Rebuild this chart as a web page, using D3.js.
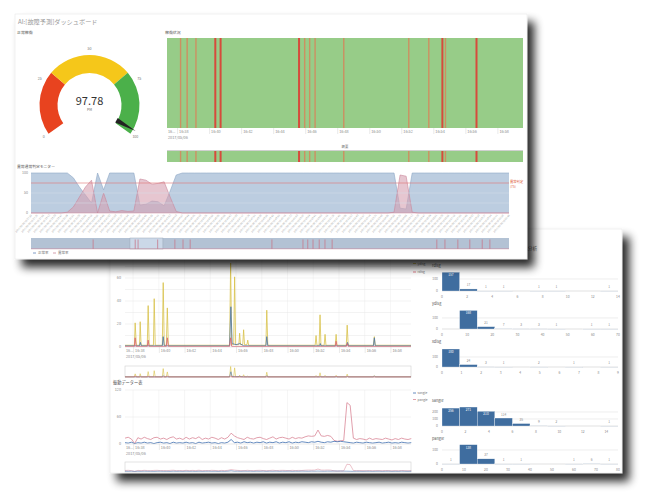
<!DOCTYPE html>
<html>
<head>
<meta charset="utf-8">
<script src="https://cdn.jsdelivr.net/npm/d3@7/dist/d3.min.js"></script>
<style>
html,body{margin:0;padding:0;background:#fff;}
svg{display:block;}
</style>
</head>
<body>
<svg id="chart" width="650" height="504"></svg>
<script>
// ================= DATA =================
const dashboardTitle = "AI:[故障予測]ダッシュボード";
const gaugeTitle = "正常稼働";
const gaugeValue = 97.78;
const gaugeUnit = "PM";
const gaugeBandEdges = [0, 30, 70, 100];
const gaugeTicks = [0, 25, 50, 75, 100];

const heatTitle = "稼働状況";
const overviewTitle = "概要";
const timeStart = 37.37, timeEnd = 59.6;          // minutes after 16:00
const timeTickMinutes = [38, 40, 42, 44, 46, 48, 50, 52, 54, 56, 58];
const timeTickLabels = ["16:38","16:40","16:42","16:44","16:46","16:48","16:50","16:52","16:54","16:56","16:58"];
const firstTickLabel = "16...";
const dateLabel = "2017/05/06";

const heatEventTimes  = [38.23, 38.64, 39.19, 40.38, 40.71, 45.61, 45.98, 46.29, 46.63, 48.42, 52.48, 53.73, 54.56, 54.77, 56.69];
const heatEventLevels = [1, 1, 1, 2, 2, 2, 1, 1, 1, 1, 1, 1, 2, 1, 2];

const monitorTitle = "異常通常判定モニター";
const monitorSeriesNames = ["正常率", "異常率"];
const monitorTimes = ["16:37:22","16:37:39","16:37:56","16:38:13","16:38:30","16:38:47","16:39:04","16:39:21","16:39:38","16:39:55",
"16:40:12","16:40:29","16:40:46","16:41:03","16:41:20","16:41:37","16:41:54","16:42:11","16:42:28","16:42:45",
"16:43:02","16:43:19","16:43:36","16:43:53","16:44:10","16:44:27","16:44:44","16:45:01","16:45:18","16:45:35",
"16:45:52","16:46:09","16:46:26","16:46:43","16:47:00","16:47:17","16:47:34","16:47:51","16:48:08","16:48:25",
"16:48:42","16:48:59","16:49:16","16:49:33","16:49:50","16:50:07","16:50:24","16:50:41","16:50:58","16:51:15",
"16:51:32","16:51:49","16:52:06","16:52:23","16:52:40","16:52:57","16:53:14","16:53:31","16:53:48","16:54:05",
"16:54:22","16:54:39","16:54:56","16:55:13","16:55:30","16:55:47","16:56:04","16:56:21","16:56:38","16:56:55",
"16:57:12","16:57:29","16:57:46","16:58:03","16:58:20","16:58:37","16:58:54","16:59:11","16:59:28","16:59:45"];
const normalRate = [100,100,100,100,100,100,100,88,65,45, 25,100,58,100,100,100,100,100,20,22,
 30,28,18,55,95,100,100,100,100,100, 100,100,100,100,100,100,100,100,100,100,
 100,100,100,100,100,100,100,100,100,100, 100,100,100,100,100,100,100,100,100,100,
 100,12,10,100,100,100,100,100,100,100, 100,100,100,100,100,100,100,100,100,100];
const abnormalRate = [0,0,0,0,0,0,2,15,40,65, 82,0,50,5,3,6,4,5,85,82,
 72,74,78,40,4,0,0,0,0,0, 0,0,0,0,0,0,0,0,0,0,
 0,0,0,0,0,0,0,0,0,0, 0,0,0,0,0,0,0,0,0,0,
 2,95,92,2,0,0,0,0,0,0, 0,0,0,0,0,0,0,0,0,0];
const monitorThreshold = 75;
const monitorThresholdLabel = ["異常判定", "(75)"];
const monitorYTicks = [0, 50, 100];
const monitorGrid = [25, 50];
const overviewEventPct = [13.0, 21.8, 22.4, 26.5, 30.1, 31.8, 33.3, 50.4, 56.9, 57.9, 59.0, 60.3, 61.5, 63.0, 84.9, 86.6, 89.3, 91.8, 94.4, 96.0];
const overviewBrushPct = [20.7, 27.6];

// sensor line chart (minute, value)
const sensorSeriesNames = ["xdisg", "ydisg", "rdisg"];
const xdisgSeries = [[37.37,1],[38.50,1],[38.57,4],[38.64,1],[40.27,1],[40.34,9],[40.42,1],[45.50,1],[45.60,35],[45.70,3],[46.0,2],[46.3,3],[46.6,1],
 [48.32,1],[48.39,9],[48.47,1],[52.5,1],[52.55,3],[52.6,1],[54.6,1],[54.66,4],[54.75,1],[56.68,1],[56.75,8],[56.82,1],[59.6,1]];
const ydisgSeries = [[37.37,1.5],[38.10,1.5],[38.16,21],[38.25,1.5],[38.50,1.5],[38.55,22],[38.62,1.5],[39.10,1.5],[39.17,36],[39.25,1.5],
 [39.58,1.5],[39.64,42],[39.72,1.5],[40.27,1.5],[40.34,56],[40.42,1.5],[40.58,1.5],[40.66,34],[40.74,1.5],[45.50,1.5],[45.58,73],[45.66,2],
 [45.82,2],[45.89,61],[45.97,2],[46.22,2],[46.28,12],[46.35,2],[46.52,2],[46.59,15],[46.66,2],[46.85,2],[46.91,6],[46.98,1.5],[48.32,1.5],
 [48.39,32],[48.47,1.5],[52.15,1.5],[52.22,10],[52.29,1.5],[52.46,1.5],[52.53,28],[52.60,1.5],[52.85,1.5],[52.92,11],[52.99,1.5],[53.71,1.5],
 [53.78,11],[53.85,1.5],[54.57,1.5],[54.64,19],[54.72,1.5],[56.68,1.5],[56.75,9],[56.82,1.5],[59.6,1.5]];
const rdisgSeries = [[37.37,0.5],[38.10,0.5],[38.16,8],[38.24,0.5],[39.10,0.5],[39.17,6],[39.24,0.5],[40.58,0.5],[40.66,8],[40.74,0.5],
 [45.50,0.5],[45.58,8],[45.66,0.5],[53.71,0.5],[53.78,5],[53.85,0.5],[54.57,0.5],[54.64,3],[54.71,0.5],[59.6,0.5]];
const sensorYTicks = [0, 20, 40, 60, 80, 100];

// vibration chart
const vibTitle = "振動データー表";
const vibSeriesNames = ["sangle", "pangle"];
const vibStartMinute = 37.37, vibStepMinute = 0.25;
const sangleValues = [3,2,4,1,3,2,4,2,3,1, 3,4,2,3,1,4,2,3,2,4, 2,3,1,4,2,3,4,2,3,1, 3,2,4,10,3,4,2,5,3,4,
 2,4,3,5,2,4,3,5,2,4, 3,5,2,4,3,5,4,3,5,4, 6,4,3,5,4,6,5,6,5,4, 3,2,4,3,2,4,3,2,3,4, 2,3,4,2,3,2,4,3,2,3];
const pangleValues = [13,15,11,1,14,11,15,12,10,14, 15,11,13,10,14,16,11,13,10,15, 11,14,12,16,10,13,11,15,13,10,
 14,11,15,24,18,14,12,10,15,12, 11,14,15,12,10,13,16,11,14,15, 13,11,15,12,14,13,16,18,17,18,
 31,18,17,19,17,8,6,7,8,92, 86,13,10,12,11,9,13,10,12,11, 10,13,11,9,12,10,13,11,10,12];
const vibYTicks = [0, 60, 120];

// histograms
const histPanelTitle = "ヒストグラム分析";
const histNames  = ["rdisg", "ydisg", "xdisg", "sangle", "pangle"];
const histCounts = [[157,17,1,1,0,1,1,0,0,1],[0,168,21,7,3,3,1,0,1,1],[180,24,3,1,0,2,0,1,0,1],[256,271,210,114,35,9,2,0,0,1],[1,138,37,1,1,0,0,1,6,1]];
const histXMax   = [14, 70, 9, 15, 80];
const histXTicks = [[0,2,4,6,8,10,12,14],[0,10,20,30,40,50,60,70],[0,1,2,3,4,5,6,7,8,9],[0,2,4,6,8,10,12,14],[0,10,20,30,40,50,60,70,80]];
const histYTicks = [[0,100],[0,100],[0,100],[0,100,200],[0,100]];
const histYMax   = [175, 190, 210, 300, 150];

// ================= DRAW =================
const FONT = "'Noto Sans CJK JP','Noto Sans',sans-serif";
const svg = d3.select("#chart").attr("font-family", FONT);
const defs = svg.append("defs");
const flt = defs.append("filter").attr("id","shadow").attr("x","-5%").attr("y","-5%").attr("width","118%").attr("height","125%");
flt.append("feGaussianBlur").attr("in","SourceAlpha").attr("stdDeviation",5).attr("result","b");
flt.append("feOffset").attr("in","b").attr("dx",7).attr("dy",8).attr("result","o");
flt.append("feComponentTransfer").attr("in","o").attr("result","s").append("feFuncA").attr("type","linear").attr("slope",0.85);
const fm = flt.append("feMerge"); fm.append("feMergeNode").attr("in","s"); fm.append("feMergeNode").attr("in","SourceGraphic");

function txt(g, x, y, s, size, fill, anchor) {
  return g.append("text").attr("x",x).attr("y",y).attr("font-size",size).attr("fill",fill)
    .attr("text-anchor",anchor||"start").text(s);
}
function panel(id, P) {
  const g = svg.append("g");
  g.append("rect").attr("x",P.x).attr("y",P.y).attr("width",P.w).attr("height",P.h)
    .attr("fill","#fff").attr("stroke","#e4e4e4").attr("stroke-width",0.5).attr("filter","url(#shadow)");
  defs.append("clipPath").attr("id",id).append("rect").attr("x",P.x).attr("y",P.y).attr("width",P.w).attr("height",P.h);
  return g.append("g").attr("clip-path",`url(#${id})`);
}
function timeAxis(g, xs, yTop, fs) {
  const ax = d3.axisBottom(xs).tickValues(timeTickMinutes).tickSize(6).tickFormat((d,i)=>timeTickLabels[i]);
  const a = g.append("g").attr("transform",`translate(0,${yTop})`).call(ax);
  a.attr("font-size",fs).attr("font-family",FONT);
  a.select(".domain").remove();
  a.selectAll(".tick line").attr("stroke","#d4d4d4").attr("stroke-width",0.5);
  a.selectAll(".tick text").attr("fill","#8a8a8a").attr("text-anchor","start").attr("x",1.5).attr("y",2.3).attr("dy","0.71em");
  txt(g, xs(timeStart)+1, yTop+2.3+fs*0.71, firstTickLabel, fs, "#8a8a8a");
  txt(g, xs(timeStart)+1, yTop+8.3+fs*0.71, dateLabel, fs, "#8a8a8a");
}
function lineChart(g, xs, ys, series, colors, gridY, yTicks, top, bottom) {
  g.selectAll(null).data(timeTickMinutes).enter().append("line")
    .attr("x1",d=>xs(d)).attr("x2",d=>xs(d)).attr("y1",top).attr("y2",bottom).attr("stroke","#ececec").attr("stroke-width",0.5);
  g.selectAll(null).data(gridY).enter().append("line")
    .attr("x1",xs.range()[0]).attr("x2",xs.range()[1]).attr("y1",d=>ys(d)).attr("y2",d=>ys(d)).attr("stroke","#e6e6e6").attr("stroke-width",0.5);
  yTicks.forEach(v => txt(g, xs.range()[0]-4, ys(v)+1.3, String(v), 3.8, "#8a8a8a", "end"));
  const ln = d3.line().x(d=>xs(d[0])).y(d=>ys(d[1]));
  series.forEach((s,i) => g.append("path").attr("d", ln(s)).attr("fill","none").attr("stroke",colors[i]).attr("stroke-width",0.8).attr("stroke-linejoin","round"));
}

// ---------- bottom panel ----------
const P2 = {x:110, y:229, w:512, h:244};
const c2 = panel("clip2", P2);

const xs2 = d3.scaleLinear().domain([timeStart, timeEnd]).range([125, 411]);
const ysS = d3.scaleLinear().domain([0, 100]).range([347, 232]);
const sensorColors = ["#4a74a8", "#d8c24a", "#d9606e"];
lineChart(c2, xs2, ysS, [ydisgSeries, xdisgSeries, rdisgSeries], [sensorColors[1], sensorColors[0], sensorColors[2]],
  d3.range(10, 101, 10), sensorYTicks, 232, 347);
c2.append("line").attr("x1",125).attr("x2",411).attr("y1",ysS(0)).attr("y2",ysS(0)).attr("stroke","#d0d0d0").attr("stroke-width",0.5);
timeAxis(c2, xs2, 347, 3.8);
c2.append("rect").attr("x",125).attr("y",366).attr("width",286).attr("height",11).attr("fill","#fff").attr("stroke","#cfcfcf").attr("stroke-width",0.6);
const ysSo = d3.scaleLinear().domain([0, 100]).range([377, 362]);
[ydisgSeries, xdisgSeries, rdisgSeries].forEach((s,i) => {
  const cols = [sensorColors[1], sensorColors[0], sensorColors[2]];
  c2.append("path").attr("d", d3.line().x(d=>xs2(d[0])).y(d=>Math.max(366.5, ysSo(d[1])))(s)).attr("fill","none").attr("stroke",cols[i]).attr("stroke-width",0.6);
});
sensorSeriesNames.forEach((n,i) => {
  const y = 255 + i*8.5;
  c2.append("line").attr("x1",413).attr("x2",416).attr("y1",y).attr("y2",y).attr("stroke",sensorColors[i]).attr("stroke-width",0.8);
  txt(c2, 417.5, y+1.1, n, 3.2, "#777");
});

txt(c2, 113, 383.5, vibTitle, 4.2, "#555");
const ysV = d3.scaleLinear().domain([0, 120]).range([444, 390]);
const vibMinute = i => vibStartMinute + i*vibStepMinute;
const sangleSeries = sangleValues.map((v,i)=>[vibMinute(i), v]);
const pangleSeries = pangleValues.map((v,i)=>[vibMinute(i), v]);
const vibColors = ["#3f6fb0", "#d98797"];
lineChart(c2, xs2, ysV, [pangleSeries, sangleSeries], [vibColors[1], vibColors[0]], [60, 120], vibYTicks, 390, 444);
c2.append("line").attr("x1",125).attr("x2",411).attr("y1",444).attr("y2",444).attr("stroke","#d0d0d0").attr("stroke-width",0.5);
timeAxis(c2, xs2, 444, 3.8);
c2.append("rect").attr("x",125).attr("y",462).attr("width",286).attr("height",10).attr("fill","#fff").attr("stroke","#cfcfcf").attr("stroke-width",0.6);
const ysVo = d3.scaleLinear().domain([0, 120]).range([471.5, 462]);
[pangleSeries, sangleSeries].forEach((s,i) => {
  c2.append("path").attr("d", d3.line().x(d=>xs2(d[0])).y(d=>ysVo(d[1]))(s)).attr("fill","none").attr("stroke",[vibColors[1],vibColors[0]][i]).attr("stroke-width",0.5);
});
vibSeriesNames.forEach((n,i) => {
  const y = 393 + i*6.5;
  c2.append("line").attr("x1",413).attr("x2",416).attr("y1",y).attr("y2",y).attr("stroke",vibColors[i]).attr("stroke-width",0.8);
  txt(c2, 417.5, y+1.1, n, 3.2, "#777");
});

txt(c2, 537, 249.5, histPanelTitle, 4.6, "#666", "end");
const histTop = [270, 308, 346, 405, 443], histBottom = [291, 329, 367, 426, 464];
histNames.forEach((name, k) => {
  const xs = d3.scaleLinear().domain([0, histXMax[k]]).range([442, 618]);
  const ys = d3.scaleLinear().domain([0, histYMax[k]]).range([histBottom[k], histTop[k]]);
  const bw = histXMax[k] / histCounts[k].length;
  txt(c2, 432, histTop[k]-3.5, name, 3.8, "#555");
  histYTicks[k].forEach(v => {
    c2.append("line").attr("x1",442).attr("x2",618).attr("y1",ys(v)).attr("y2",ys(v))
      .attr("stroke", v === 0 ? "#cfcfcf" : "#e2e2e2").attr("stroke-width",0.6);
    txt(c2, 438, ys(v)+1.2, String(v), 3.4, "#8a8a8a", "end");
  });
  histCounts[k].forEach((v, i) => {
    if (v === 0) return;
    const x0 = xs(i*bw), x1 = xs((i+1)*bw);
    const h = ys(0) - ys(v);
    c2.append("rect").attr("x",x0).attr("y",ys(v)).attr("width",x1-x0).attr("height",Math.max(h,0.7))
      .attr("fill", h < 1.5 ? "#c8d2dd" : "#3f6d9f").attr("stroke","#fff").attr("stroke-width",0.3);
    if (h > 9) txt(c2, (x0+x1)/2, ys(v)+4, String(v), 3.2, "#fff", "middle");
    else txt(c2, (x0+x1)/2, ys(v)-2.5, String(v), 3.2, "#8a8a8a", "middle");
  });
  histXTicks[k].forEach(v => txt(c2, xs(v), histBottom[k]+6.5, String(v), 3.4, "#8a8a8a", "middle"));
});

// ---------- top panel ----------
const P1 = {x:15, y:14, w:512, h:245};
const c1 = panel("clip1", P1);
txt(c1, 18, 24, dashboardTitle, 6.2, "#9a9a9a");
txt(c1, 17, 34, gaugeTitle, 3.9, "#555");

const gc = {x:89.5, y:105};
const ang = d3.scaleLinear().domain([0, 100]).range([-125*Math.PI/180, 125*Math.PI/180]);
const arc = d3.arc().innerRadius(32).outerRadius(50);
const bandColors = ["#e8431f", "#f5c71a", "#4bb04a"];
const gg = c1.append("g").attr("transform",`translate(${gc.x},${gc.y})`);
d3.range(gaugeBandEdges.length-1).forEach(i => {
  gg.append("path").attr("d", arc({startAngle: ang(gaugeBandEdges[i]), endAngle: ang(gaugeBandEdges[i+1])})).attr("fill", bandColors[i]);
});
gaugeTicks.forEach(v => {
  const a = ang(v), r = 56;
  txt(gg, r*Math.sin(a), -r*Math.cos(a)+1.3, String(v), 3.6, "#777", "middle");
});
const na = ang(gaugeValue);
const pt = (r, off) => [r*Math.sin(na) + off*Math.cos(na), -r*Math.cos(na) + off*Math.sin(na)];
gg.append("polygon").attr("points", [pt(31,-2.6), pt(31,2.6), pt(53,0)].map(p=>p.join(",")).join(" ")).attr("fill","#222");
txt(gg, 0, 0, gaugeValue.toFixed(2), 11, "#333", "middle");
txt(gg, 0, 6, gaugeUnit, 3.4, "#666", "middle");

txt(c1, 165, 34, heatTitle, 3.9, "#555");
const xh = d3.scaleLinear().domain([timeStart, timeEnd]).range([167, 523]);
const heatGreen = "#97cc88", heatLevelColors = ["#97cc88", "#cc9062", "#d64b3c"];
function heatStrip(y, h) {
  c1.append("rect").attr("x",xh(timeStart)).attr("y",y).attr("width",xh(timeEnd)-xh(timeStart)).attr("height",h).attr("fill",heatGreen);
  heatEventTimes.forEach((t,i) => {
    const lv = heatEventLevels[i];
    c1.append("rect").attr("x",xh(t)-0.9).attr("y",y).attr("width", lv === 2 ? 2.0 : 1.4).attr("height",h).attr("fill",heatLevelColors[lv]);
  });
}
heatStrip(38, 90);
timeAxis(c1, xh, 128, 3.8);
txt(c1, 345, 148, overviewTitle, 3.4, "#777", "middle");
heatStrip(151, 11);
c1.append("line").attr("x1",167).attr("x2",523).attr("y1",150.5).attr("y2",150.5).attr("stroke","#c4c4c4").attr("stroke-width",0.8);

txt(c1, 17, 168, monitorTitle, 3.8, "#555");
const xm = d3.scalePoint().domain(monitorTimes).range([31, 509]);
const ym = d3.scaleLinear().domain([0, 100]).range([213, 173]);
const areaGen = vals => d3.area().x((d,i)=>xm(monitorTimes[i])).y0(ym(0)).y1(d=>ym(d))(vals);
const lineGen = vals => d3.line().x((d,i)=>xm(monitorTimes[i])).y(d=>ym(d))(vals);
c1.append("path").attr("d", areaGen(normalRate)).attr("fill","#bccde0");
c1.append("path").attr("d", lineGen(normalRate)).attr("fill","none").attr("stroke","#8ea7c6").attr("stroke-width",0.6);
c1.append("path").attr("d", areaGen(abnormalRate)).attr("fill","#d6a0b0").attr("fill-opacity",0.6);
c1.append("path").attr("d", lineGen(abnormalRate)).attr("fill","none").attr("stroke","#c9879a").attr("stroke-width",0.6);
monitorGrid.forEach(v => c1.append("line").attr("x1",31).attr("x2",509).attr("y1",ym(v)).attr("y2",ym(v)).attr("stroke","#d6dee8").attr("stroke-width",0.5));
c1.append("line").attr("x1",31).attr("x2",509).attr("y1",ym(monitorThreshold)).attr("y2",ym(monitorThreshold)).attr("stroke","#e07272").attr("stroke-width",0.6);
c1.append("line").attr("x1",31).attr("x2",509).attr("y1",ym(0)).attr("y2",ym(0)).attr("stroke","#c9879a").attr("stroke-width",0.5);
monitorYTicks.forEach(v => txt(c1, 28, ym(v)+1.2, String(v), 3.6, "#8a8a8a", "end"));
monitorThresholdLabel.forEach((s,i) => txt(c1, 510, ym(monitorThreshold)+i*4.6, s, 3.3, "#e0603a", "start"));
monitorTimes.forEach(t => {
  c1.append("text").attr("transform",`translate(${xm(t)+1},215.5) rotate(-48)`).attr("text-anchor","end")
    .attr("font-size",2.5).attr("fill","#9a9a9a").text(dateLabel + " " + t);
});
const xo = d3.scaleLinear().domain([0, 100]).range([31, 509]);
c1.append("rect").attr("x",31).attr("y",238).attr("width",478).attr("height",11).attr("fill","#b3c2d4");
c1.append("rect").attr("x",xo(overviewBrushPct[0])).attr("y",238).attr("width",xo(overviewBrushPct[1])-xo(overviewBrushPct[0])).attr("height",11)
  .attr("fill","#cbd8e8").attr("stroke","#9aa8b8").attr("stroke-width",0.5);
overviewEventPct.forEach(p => c1.append("line").attr("x1",xo(p)).attr("x2",xo(p)).attr("y1",239.5).attr("y2",249).attr("stroke","#c7788c").attr("stroke-width",0.8));
c1.append("line").attr("x1",31).attr("x2",509).attr("y1",248.8).attr("y2",248.8).attr("stroke","#c9879a").attr("stroke-width",0.6);
const monitorColors = ["#5f84b8", "#c9879a"];
monitorSeriesNames.forEach((n,i) => {
  const x = 33 + i*20;
  c1.append("line").attr("x1",x).attr("x2",x+3).attr("y1",253).attr("y2",253).attr("stroke",monitorColors[i]).attr("stroke-width",0.8);
  txt(c1, x+5, 254.3, n, 3.5, "#777");
});
</script>
</body>
</html>
